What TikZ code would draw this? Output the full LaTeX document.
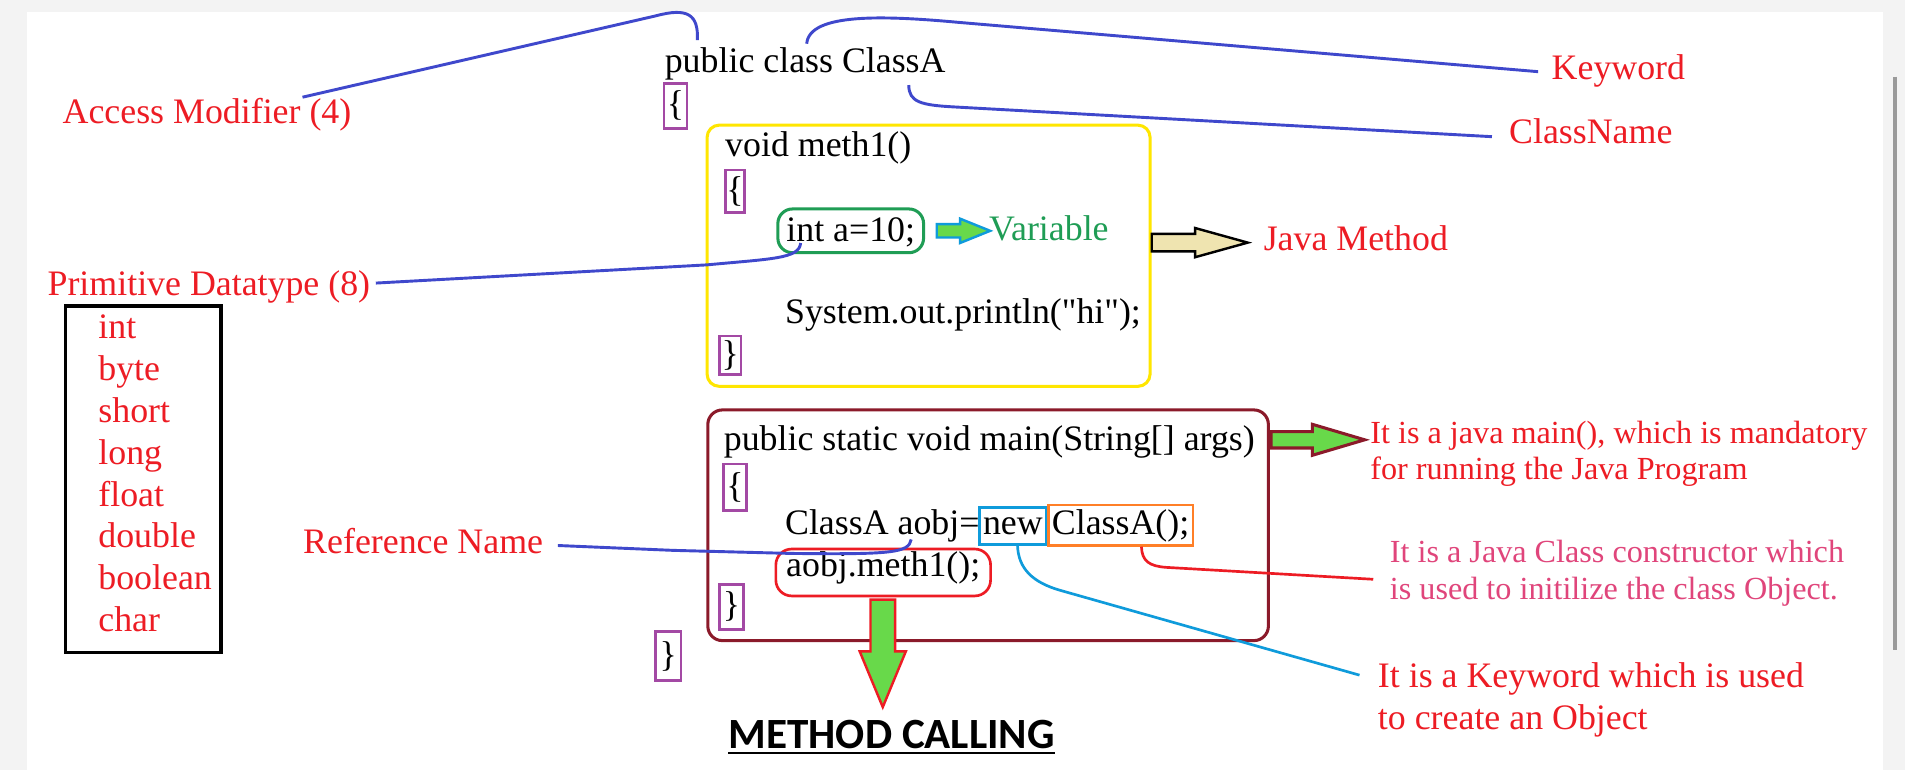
\documentclass[tikz,border=0pt]{standalone}
\usepackage{fontspec}
\setmainfont{Liberation Serif}
\newfontfamily\callfont{Carlito}
\usetikzlibrary{shapes.arrows}

\definecolor{connblue}{HTML}{3F48CC}
\definecolor{labelred}{HTML}{ED1C24}
\definecolor{bracepurple}{HTML}{A349A4}
\definecolor{methyellow}{HTML}{FFE600}
\definecolor{mainmaroon}{HTML}{8B1A2A}
\definecolor{intgreen}{HTML}{1F9D55}
\definecolor{newblue}{HTML}{0F9BDB}
\definecolor{ctororange}{HTML}{FF7F27}
\definecolor{notepink}{HTML}{E0457B}
\definecolor{arrowgreen}{HTML}{68D94A}
\definecolor{beige}{HTML}{EFE4B0}
\definecolor{chrome}{HTML}{F3F3F3}
\definecolor{scrollgray}{HTML}{9A9A9A}

\begin{document}
\begin{tikzpicture}[x=1pt, y=-1pt,
          code/.style={anchor=base west, inner sep=0pt, font=\fontsize{29.5}{34}\selectfont},
          lbl/.style={code, text=labelred},
          note/.style={anchor=base west, inner sep=0pt, font=\fontsize{26.5}{30}\selectfont},
          bracebox/.style={draw=bracepurple, line width=2.2pt, inner sep=0pt, minimum width=19pt, minimum height=37pt, font=\fontsize{29.5}{34}\selectfont},
          conn/.style={draw=connblue, line width=2.4pt},
          blockarrow/.style={single arrow, anchor=tail, line width=2pt}
        ]
          % Page
          \useasboundingbox (0,0) rectangle (1568,634);
          \fill[white] (0,0) rectangle (1568,634);
          \fill[chrome] (0,0) rectangle (1568,9.6);
          \fill[chrome] (0,9.6) rectangle (22,634);
          \fill[chrome] (1550,9.6) rectangle (1568,634);
          \draw[scrollgray, line width=3pt] (1559.5,63) -- (1559.5,535);

          % Class header
          \node[code] (cls) at (547,59.8) {public class ClassA};
          \node[bracebox] (clsopen) at (556,87) {\{};

          % Method box
          \draw[methyellow, line width=2.5pt, rounded corners=10pt] (582,103) rectangle (946.6,318);
          \node[code] (meth) at (596.7,129) {void meth1()};
          \node[bracebox, minimum width=16pt, minimum height=35pt] (methopen) at (605,157.5) {\{};
          \node[code, draw=intgreen, line width=2.5pt, rounded corners=12pt, inner xsep=7pt, inner ysep=6pt, text height=21pt, text depth=3pt] (intvar) at (639,199) {int a=10;};
          \node[code] (println) at (646,266) {System.out.println(\textquotedbl hi\textquotedbl);};
          \node[bracebox, minimum width=18pt, minimum height=32pt] (methclose) at (601,292.5) {\}};

          % Main box
          \draw[mainmaroon, line width=2.5pt, rounded corners=12pt] (582.6,337.4) rectangle (1044,527.3);
          \node[code] (main) at (595.6,370.4) {public static void main(String[] args)};
          \node[bracebox, minimum height=38pt] (mainopen) at (605,401) {\{};
          \node[code] (decl) at (646,439.8) {ClassA aobj=};
          \node[code, draw=newblue, line width=2.2pt, inner xsep=3pt, inner ysep=3.2pt, text height=19pt, text depth=5pt] (newkw) at (805,439.8) {new};
          \node[code, draw=ctororange, line width=2.2pt, inner xsep=3pt, inner ysep=3.2pt, text height=21pt, text depth=6pt] (ctor) at (861.7,439.8) {ClassA();};
          \node[code, draw=labelred, line width=2.2pt, rounded corners=13pt, inner xsep=8.5pt, inner ysep=3.4pt, text height=19.3pt, text depth=12.5pt] (callbox) at (637.5,474.6) {aobj.meth1();};
          \node[bracebox, minimum width=20pt] (mainclose) at (602,499.4) {\}};
          \node[bracebox, minimum width=21pt, minimum height=40pt] (clsclose) at (550,540) {\}};

          % Primitive types
          \draw[black, line width=2.8pt] (54,252) rectangle (182,537.2);
          \node[lbl] (tint) at (80.8,279) {int};
          \node[lbl] (tbyte) at (80.8,313.4) {byte};
          \node[lbl] (tshort) at (80.8,347.8) {short};
          \node[lbl] (tlong) at (80.8,382.2) {long};
          \node[lbl] (tfloat) at (80.8,416.6) {float};
          \node[lbl] (tdouble) at (80.8,451) {double};
          \node[lbl] (tboolean) at (80.8,485.4) {boolean};
          \node[lbl] (tchar) at (80.8,519.8) {char};

          % Labels
          \node[lbl] (access) at (51.4,101.5) {Access Modifier (4)};
          \node[lbl] (prim) at (39,243.6) {Primitive Datatype (8)};
          \node[lbl] (kw) at (1277,65.3) {Keyword};
          \node[lbl] (cn) at (1242,118) {ClassName};
          \node[lbl] (javam) at (1040,206.3) {Java Method};
          \node[code, text=intgreen] (var) at (814,198) {Variable};
          \node[lbl] (ref) at (249.4,455.4) {Reference Name};
          \node[note, text=labelred] (mainA) at (1127.7,364.9) {It is a java main(), which is mandatory};
          \node[note, text=labelred] (mainB) at (1127.7,395) {for running the Java Program};
          \node[note, text=notepink] (ctorA) at (1143.8,463) {It is a Java Class constructor which};
          \node[note, text=notepink] (ctorB) at (1143.8,493.8) {is used to initilize the class Object.};
          \node[lbl] (kwA) at (1134,565.7) {It is a Keyword which is used};
          \node[lbl] (kwB) at (1134,600.3) {to create an Object};

          % Block arrows
          \node[blockarrow, draw=newblue, fill=arrowgreen, inner sep=4.5pt, single arrow head extend=4.5pt, single arrow tip angle=44, minimum height=44pt] (vararrow) at (770,190) {};
          \node[blockarrow, draw=black, fill=beige, inner sep=6.2pt, single arrow head extend=4.8pt, single arrow tip angle=31, minimum height=79pt] (javaarrow) at (947,199.7) {};
          \node[blockarrow, draw=mainmaroon, line width=2.5pt, fill=arrowgreen, inner sep=5.5pt, single arrow head extend=6pt, single arrow tip angle=33, minimum height=77pt] (mainarrow) at (1045,362) {};
          \node[blockarrow, draw=labelred, fill=arrowgreen, inner sep=9.1pt, single arrow head extend=8.9pt, single arrow tip angle=45, minimum height=88.5pt, shape border rotate=270] (calldown) at (726.6,492.5) {};

          % Method calling
          \node[anchor=base, inner sep=0pt, font=\callfont\bfseries\fontsize{35.5}{40}\selectfont] (calling) at (734,616) {METHOD CALLING};
          \draw[line width=1.8pt] ([yshift=-3.6pt]calling.base west) -- ([yshift=-3.6pt]calling.base east);

          % Connections
          \coordinate (pubtip) at (574,33);
          \coordinate (kwtip) at (664,36);
          \coordinate (cntip) at (748,70);
          \coordinate (inttip) at (659,200);
          \coordinate (reftip) at (750,444);
          \coordinate (newtip) at (837.5,448.6);
          \coordinate (ctortip) at (939.5,450);
          \draw[conn] ([xshift=197.6pt,yshift=21.5pt]access.base west) -- (540,13) .. controls (566,6) and (575,12) .. (pubtip);
          \draw[conn] ([xshift=-11pt,yshift=6.3pt]kw.base west) -- (790,18.5) .. controls (730,13) and (666,10) .. (kwtip);
          \draw[conn] ([xshift=-14pt,yshift=5.5pt]cn.base west) -- (785,88) .. controls (758,86.5) and (748,84) .. (cntip);
          \draw[conn] ([xshift=4.5pt,yshift=10.6pt]prim.base east) -- (582,218) .. controls (635,213) and (658,213) .. (inttip);
          \draw[conn] ([xshift=12pt,yshift=6.4pt]ref.base east) -- (554,453) -- (650,455.5) .. controls (735,456.5) and (748,455) .. (reftip);
          \draw[newblue, line width=2.2pt] ([xshift=-15pt,yshift=10pt]kwA.base west) -- (873,486) .. controls (850,479.5) and (838,468) .. (newtip);
          \draw[labelred, line width=2.2pt] ([xshift=-13.5pt,yshift=-13.8pt]ctorA.base west) -- (960,467) .. controls (946,466) and (940,462) .. (ctortip);
        \end{tikzpicture}
\end{document}
